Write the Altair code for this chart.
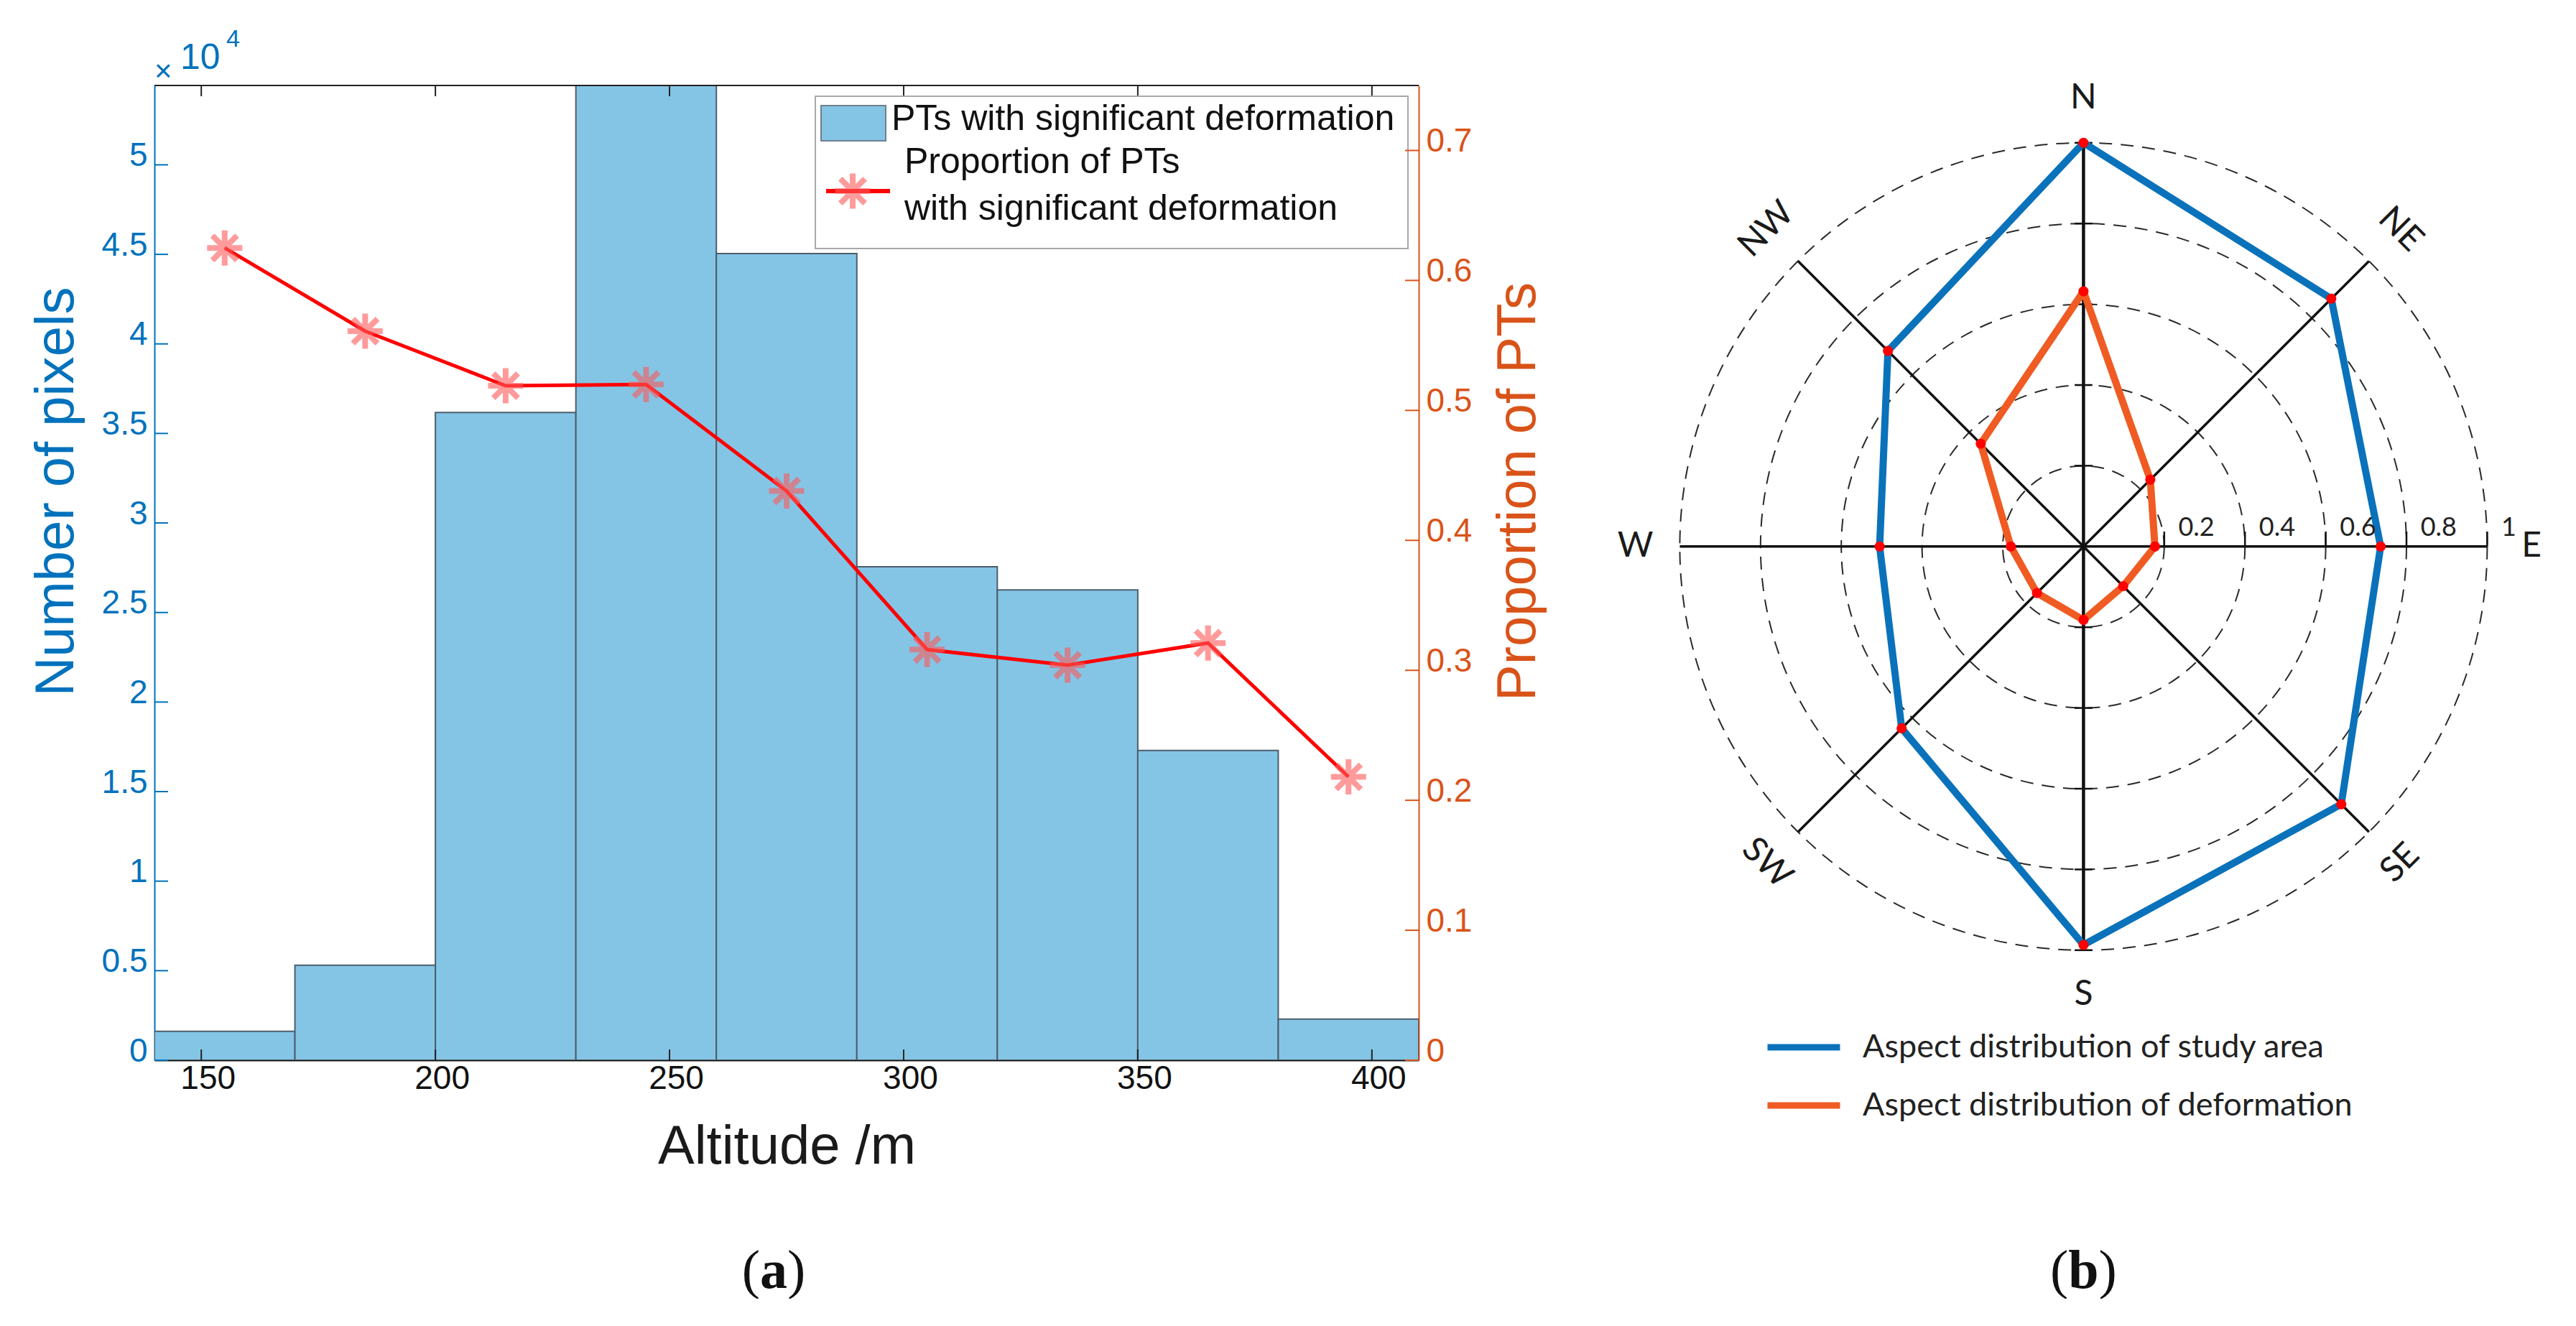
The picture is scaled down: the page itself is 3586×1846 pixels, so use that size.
import altair as alt
import pandas as pd

# ---------- (a) altitude histogram with proportion line ----------
bin_start = [140, 170, 200, 230, 260, 290, 320, 350, 380]
bin_end = [170, 200, 230, 260, 290, 320, 350, 380, 410]
pixel_count = [1610, 5300, 36170, 58000, 45040, 27560, 26260, 17300, 2300]
bin_centre = [155, 185, 215, 245, 275, 305, 335, 365, 395]
pt_proportion = [0.625, 0.561, 0.519, 0.520, 0.438, 0.316, 0.304, 0.321, 0.218]

altitude_ticks = [150, 200, 250, 300, 350, 400]
count_ticks = [0, 5000, 10000, 15000, 20000, 25000, 30000, 35000, 40000, 45000, 50000]
proportion_ticks = [0, 0.1, 0.2, 0.3, 0.4, 0.5, 0.6, 0.7]

# ---------- (b) aspect radar ----------
directions = ['N', 'NE', 'E', 'SE', 'S', 'SW', 'W', 'NW']
study_area = [1.0, 0.868, 0.736, 0.903, 0.987, 0.637, 0.505, 0.685]
deformation = [0.632, 0.234, 0.177, 0.139, 0.182, 0.163, 0.180, 0.360]
ring_radii = [0.2, 0.4, 0.6, 0.8, 1.0]
ring_labels = ['0.2', '0.4', '0.6', '0.8', '1']
label_turn = [0, 45, 0, 315, 0, 45, 0, 315]
series_names = ['Aspect distribution of study area',
                'Aspect distribution of deformation']

BLUE_AX = '#0072BD'
ORANGE_AX = '#D95319'
BAR_FILL = '#84C5E6'
BAR_EDGE = '#4d5d6b'
RADAR_BLUE = '#0A72BA'
RADAR_ORANGE = '#EF5B22'
SANS = 'Liberation Sans'

W1, H1 = 1760, 1357
R = 562.0
X_LEFT, X_RIGHT = -1.2, 1.18
Y_TOP, Y_BOT = 1.142, -1.2
W2 = (X_RIGHT - X_LEFT) * R
H2 = (Y_TOP - Y_BOT) * R

ASTERISK = 'M0,-1L0,1M-1,0L1,0M-0.7,-0.7L0.7,0.7M-0.7,0.7L0.7,-0.7'

x_scale = alt.Scale(domain=[140, 410], nice=False, zero=False)
yl_scale = alt.Scale(domain=[0, 54430], nice=False)
yr_scale = alt.Scale(domain=[0, 0.75], nice=False)

x_axis = alt.Axis(values=altitude_ticks, title='Altitude /m',
                  labelFontSize=46, labelColor='#111', labelPadding=3,
                  labelOffset=9, tickSize=0, domainColor='#111',
                  domainWidth=2, grid=False, titleFontSize=76,
                  titleFontWeight='normal', titleColor='#1a1a1a',
                  titlePadding=35)
yl_axis = alt.Axis(values=count_ticks,
                   labelExpr="format(datum.value / 10000, '~g')",
                   labelFontSize=46, labelColor=BLUE_AX, labelPadding=10,
                   labelOffset=-13, tickSize=0, domainColor=BLUE_AX,
                   domainWidth=2, grid=False, title='Number of pixels',
                   titleColor=BLUE_AX, titleFontSize=76,
                   titleFontWeight='normal', titlePadding=24, titleY=565)
yr_axis = alt.Axis(orient='right', values=proportion_ticks, format='~g',
                   labelFontSize=46, labelColor=ORANGE_AX, labelPadding=10,
                   labelOffset=-13, tickSize=0, domainColor=ORANGE_AX,
                   domainWidth=2, grid=False, title='Proportion of PTs',
                   titleColor=ORANGE_AX, titleFontSize=76,
                   titleFontWeight='normal', titleAngle=270,
                   titleBaseline='top', titlePadding=28, titleY=565)

hist_df = pd.DataFrame({'start': bin_start, 'end': bin_end, 'count': pixel_count})
prop_df = pd.DataFrame({'start': bin_centre, 'prop': pt_proportion})
one = pd.DataFrame({'k': [0]})


def txt(s, x, y, size, color='#111', align='left', baseline='middle',
        font=SANS, weight='normal'):
    return alt.Chart(one).mark_text(
        text=s, align=align, baseline=baseline, fontSize=size, font=font,
        fontWeight=weight, color=color).encode(x=alt.value(x), y=alt.value(y))


bars = alt.Chart(hist_df).transform_calculate(base='0').mark_rect(
    color=BAR_FILL, stroke=BAR_EDGE, strokeWidth=2, clip=True).encode(
    x=alt.X('start:Q', scale=x_scale, axis=x_axis),
    x2='end:Q',
    y=alt.Y('count:Q', scale=yl_scale, axis=yl_axis),
    y2='base:Q')

left_ticks = alt.Chart(pd.DataFrame({'count': count_ticks})).mark_rule(
    color=BLUE_AX, strokeWidth=2).encode(
    y=alt.Y('count:Q', scale=yl_scale, axis=yl_axis),
    x=alt.value(0), x2=alt.value(19))

xt_df = pd.DataFrame({'start': altitude_ticks})
bottom_ticks = alt.Chart(xt_df).mark_rule(color='#222', strokeWidth=2).encode(
    x=alt.X('start:Q', scale=x_scale, axis=x_axis),
    y=alt.value(H1 - 15), y2=alt.value(H1))
top_ticks = alt.Chart(xt_df).mark_rule(color='#222', strokeWidth=2).encode(
    x=alt.X('start:Q', scale=x_scale, axis=x_axis),
    y=alt.value(0), y2=alt.value(15))
top_border = alt.Chart(one).mark_rule(color='#222', strokeWidth=2).encode(
    x=alt.value(0), x2=alt.value(W1), y=alt.value(0))

# legend box of (a)
leg_box = alt.Chart(one).mark_rect(
    fill='white', stroke='#a8a8a8', strokeWidth=2).encode(
    x=alt.value(920), x2=alt.value(1745), y=alt.value(15), y2=alt.value(227))
leg_swatch = alt.Chart(one).mark_rect(
    fill=BAR_FILL, stroke='#6f7f8c', strokeWidth=2).encode(
    x=alt.value(928), x2=alt.value(1018), y=alt.value(28), y2=alt.value(77))
leg_line = alt.Chart(one).mark_rule(color='#FF0000', strokeWidth=6).encode(
    x=alt.value(935), x2=alt.value(1024), y=alt.value(147))
leg_mark = alt.Chart(one).mark_point(
    shape=ASTERISK, size=2400, filled=False, stroke='#ff5a5a',
    strokeWidth=8, opacity=0.6).encode(x=alt.value(972), y=alt.value(147))
leg_t1 = txt('PTs with significant deformation', 1026, 47, 50)
leg_t2 = txt('Proportion of PTs', 1044, 107, 50)
leg_t3 = txt('with significant deformation', 1044, 172, 50)

# x10^4 multiplier
mult_x = txt('\u00d7', 0, -6, 42, color=BLUE_AX, baseline='alphabetic')
mult_10 = txt('10', 36, -23, 50, color=BLUE_AX, baseline='alphabetic')
mult_4 = txt('4', 100, -54, 34, color=BLUE_AX, baseline='alphabetic')

# (a) caption
cap_l = txt('(', 843, 1674, 76, color='#111', align='right',
            baseline='alphabetic', font='Liberation Serif')
cap_a = txt('a', 862, 1674, 76, color='#111', align='center',
            baseline='alphabetic', font='Liberation Serif', weight='bold')
cap_r = txt(')', 881, 1674, 76, color='#111', align='left',
            baseline='alphabetic', font='Liberation Serif')

left_group = alt.layer(bars, left_ticks, bottom_ticks, top_ticks, top_border,
                       leg_box, leg_swatch, leg_line, leg_mark, leg_t1,
                       leg_t2, leg_t3, mult_x, mult_10, mult_4,
                       cap_l, cap_a, cap_r)

prop_line = alt.Chart(prop_df).mark_line(color='#FF0000', strokeWidth=5).encode(
    x=alt.X('start:Q', scale=x_scale, axis=x_axis),
    y=alt.Y('prop:Q', scale=yr_scale, axis=yr_axis))
prop_marks = alt.Chart(prop_df).mark_point(
    shape=ASTERISK, size=2400, filled=False, stroke='#ff5a5a',
    strokeWidth=8, opacity=0.6).encode(
    x=alt.X('start:Q', scale=x_scale, axis=x_axis),
    y=alt.Y('prop:Q', scale=yr_scale, axis=yr_axis))
right_ticks = alt.Chart(pd.DataFrame({'prop': proportion_ticks})).mark_rule(
    color=ORANGE_AX, strokeWidth=2).encode(
    y=alt.Y('prop:Q', scale=yr_scale, axis=yr_axis),
    x=alt.value(W1 - 19), x2=alt.value(W1))

right_group = alt.layer(prop_line, prop_marks, right_ticks)

chart_a = alt.layer(left_group, right_group).resolve_scale(
    y='independent').properties(width=W1, height=H1)

# ---------- radar ----------
rows = []
for name, vals in zip(series_names, [study_area, deformation]):
    for k in range(len(directions) + 1):
        i = k % len(directions)
        rows.append({'series': name, 'order': k, 'bearing': i * 45, 'r': vals[i]})
radar_df = pd.DataFrame(rows)

px_expr = 'datum.r * sin(datum.bearing * PI / 180)'
py_expr = 'datum.r * cos(datum.bearing * PI / 180)'
rx = alt.Scale(domain=[X_LEFT, X_RIGHT], nice=False, zero=False)
ry = alt.Scale(domain=[Y_BOT, Y_TOP], nice=False, zero=False)


def xq(f):
    return alt.X(f, type='quantitative', scale=rx, axis=None)


def yq(f):
    return alt.Y(f, type='quantitative', scale=ry, axis=None)


ring_df = pd.DataFrame({'r': ring_radii})
# dashed circles, diameter in px taken from the same radius unit
rings = alt.Chart(ring_df).transform_calculate(
    cx='0', cy='0', sz='pow(2 * datum.r * %f, 2)' % R).mark_point(
    shape='circle', filled=False, stroke='#2a2a2a', strokeWidth=2,
    strokeDash=[18, 12], opacity=1).encode(
    x=xq('cx'), y=yq('cy'), size=alt.Size('sz:Q', scale=None))

spoke_df = pd.DataFrame({'bearing': [0, 45, 90, 135], 'r': [1, 1, 1, 1]})
spokes = alt.Chart(spoke_df).transform_calculate(
    px=px_expr, py=py_expr).transform_calculate(
    qx='-datum.px', qy='-datum.py')


def spoke_layer(cond, width):
    return spokes.transform_filter(cond).mark_rule(
        color='#111', strokeWidth=width).encode(
        x=xq('px'), y=yq('py'), x2='qx:Q', y2='qy:Q')


spoke_ns = spoke_layer('datum.bearing == 0', 4.5)
spoke_rest = spoke_layer('datum.bearing != 0', 3.5)

ns_ticks = alt.Chart(ring_df).transform_calculate(
    ty='datum.r', ta='-0.022', tb='0.022').mark_rule(
    color='#111', strokeWidth=2.5).encode(x=xq('ta'), x2='tb:Q', y=yq('ty'))
s_ticks = alt.Chart(ring_df).transform_calculate(
    ty='-datum.r', ta='-0.022', tb='0.022').mark_rule(
    color='#111', strokeWidth=2.5).encode(x=xq('ta'), x2='tb:Q', y=yq('ty'))
e_ticks = alt.Chart(ring_df).transform_calculate(
    ta='0', tb='0.037').mark_rule(color='#111', strokeWidth=2.5).encode(
    x=xq('r'), y=yq('ta'), y2='tb:Q')

polys = alt.Chart(radar_df).transform_calculate(px=px_expr, py=py_expr).mark_line(
    strokeWidth=10, strokeJoin='miter', strokeCap='butt').encode(
    x=xq('px'), y=yq('py'),
    order='order:Q',
    color=alt.Color('series:N', sort=series_names,
                    scale=alt.Scale(domain=series_names,
                                    range=[RADAR_BLUE, RADAR_ORANGE]),
                    legend=alt.Legend(title=None, orient='none', legendX=2241,
                                      legendY=1284, symbolType='stroke',
                                      symbolStrokeWidth=9, symbolSize=10200,
                                      labelFont='Lato', labelFontSize=45,
                                      labelColor='#222', labelOffset=27,
                                      rowPadding=3, labelLimit=1200)))

dots = alt.Chart(radar_df).transform_filter('datum.order < 8').transform_calculate(
    px=px_expr, py=py_expr).mark_circle(color='#FF0000', size=200, opacity=1).encode(
    x=xq('px'), y=yq('py'))

ring_text = alt.Chart(pd.DataFrame({'r': ring_radii, 'lab': ring_labels})).transform_calculate(
    tx='datum.r + 0.035', ty='0.012').mark_text(
    align='left', baseline='bottom', font='Lato', fontSize=36, color='#222').encode(
    x=xq('tx'), y=yq('ty'), text='lab:N')

dir_df = pd.DataFrame({'dir': directions, 'bearing': [i * 45 for i in range(8)],
                       'turn': label_turn, 'r': [1.11] * 8})
dir_text = alt.Chart(dir_df).transform_calculate(px=px_expr, py=py_expr).mark_text(
    align='center', baseline='middle', font='Lato', fontSize=48, color='#1a1a1a').encode(
    x=xq('px'), y=yq('py'),
    angle=alt.Angle('turn:Q', scale=None), text='dir:N')

CX = -X_LEFT * R  # pixel column of the radar centre
cap_b_l = txt('(', CX - 21, 1674, 76, color='#111', align='right',
              baseline='alphabetic', font='Liberation Serif')
cap_b = txt('b', CX, 1674, 76, color='#111', align='center',
            baseline='alphabetic', font='Liberation Serif', weight='bold')
cap_b_r = txt(')', CX + 21, 1674, 76, color='#111', align='left',
              baseline='alphabetic', font='Liberation Serif')

chart_b = alt.layer(rings, spoke_ns, spoke_rest, ns_ticks, s_ticks, e_ticks,
                    polys, dots, ring_text, dir_text,
                    cap_b_l, cap_b, cap_b_r).properties(width=W2, height=H2)

chart = alt.hconcat(chart_a, chart_b, spacing=74).configure_view(
    strokeWidth=0).configure_axis(
    labelFont=SANS, titleFont=SANS).properties(
    padding={'left': 32, 'top': 30, 'right': 0, 'bottom': 0},
    background='white')

chart.save('out.html', embed_options={'renderer': 'svg', 'actions': False})
